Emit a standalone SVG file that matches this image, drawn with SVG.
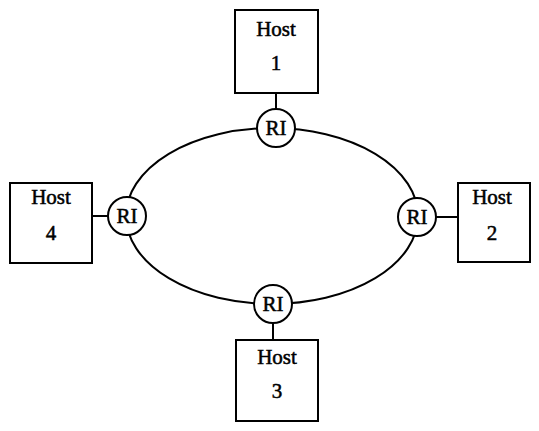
<svg xmlns="http://www.w3.org/2000/svg" width="539" height="431" viewBox="0 0 539 431">
<style>
.box{fill:#fff;stroke:#000;stroke-width:2}
.ri{fill:#fff;stroke:#000;stroke-width:2}
.ln{fill:none;stroke:#000;stroke-width:2}
text{font-family:"Liberation Serif",serif;font-size:21px;fill:#000;stroke:#000;stroke-width:0.5;text-anchor:middle}
</style>
<rect width="539" height="431" fill="#fff"/>
<g id="connectors">
<ellipse class="ln" cx="272" cy="216" rx="146" ry="88"/>
<line class="ln" x1="276" y1="93" x2="276" y2="109"/>
<line class="ln" x1="92" y1="216" x2="108" y2="216"/>
<line class="ln" x1="436" y1="217" x2="458" y2="217"/>
<line class="ln" x1="273" y1="323" x2="273" y2="340"/>
</g>
<g id="host1"><rect class="box" x="235" y="10" width="83" height="83"/><text x="276" y="36">Host</text><text x="276" y="70">1</text></g>
<g id="host4"><rect class="box" x="10" y="183" width="82" height="80"/><text x="51" y="204">Host</text><text x="51" y="240">4</text></g>
<g id="host2"><rect class="box" x="458" y="183" width="72" height="79"/><text x="492" y="204">Host</text><text x="492" y="240">2</text></g>
<g id="host3"><rect class="box" x="236" y="340" width="82" height="81"/><text x="277" y="364">Host</text><text x="277" y="398">3</text></g>
<g id="ri1"><circle class="ri" cx="276" cy="128" r="19"/><text x="276" y="135">RI</text></g>
<g id="ri4"><circle class="ri" cx="127" cy="216" r="19"/><text x="127" y="223">RI</text></g>
<g id="ri2"><circle class="ri" cx="417" cy="217" r="19"/><text x="417" y="224">RI</text></g>
<g id="ri3"><circle class="ri" cx="273" cy="304" r="19"/><text x="273" y="311">RI</text></g>
</svg>
